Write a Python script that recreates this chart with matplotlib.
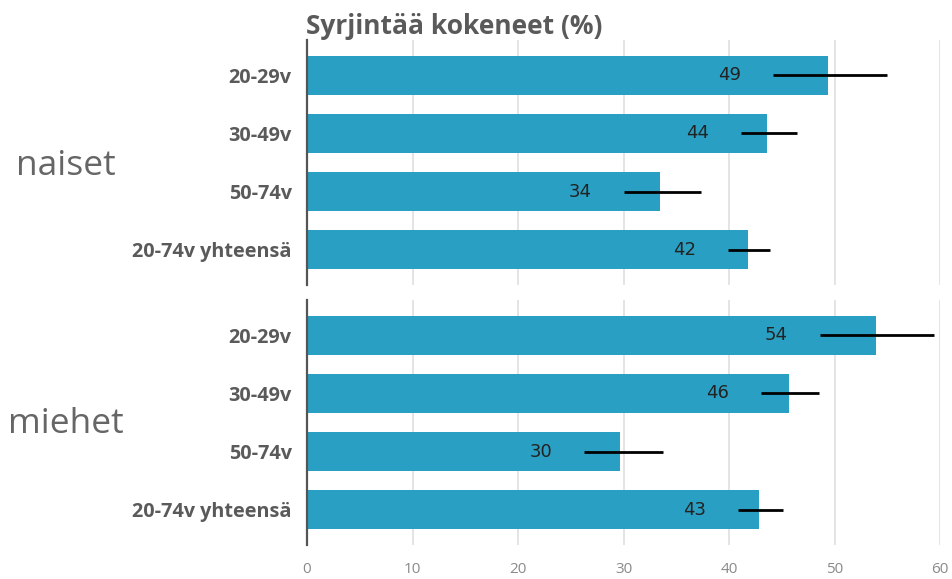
import numpy as np
import matplotlib
matplotlib.use("Agg")
import matplotlib.pyplot as plt

# Data
title = "Syrjintää kokeneet (%)"
groups = ["naiset", "miehet"]
categories = ["20-29v", "30-49v", "50-74v", "20-74v yhteensä"]
values = {
    "naiset": [49.4, 43.6, 33.5, 41.8],
    "miehet": [53.9, 45.7, 29.7, 42.8],
}
err_lo = {
    "naiset": [44.2, 41.1, 30.0, 39.9],
    "miehet": [48.6, 43.0, 26.3, 40.9],
}
err_hi = {
    "naiset": [55.0, 46.4, 37.3, 43.9],
    "miehet": [59.4, 48.5, 33.7, 45.1],
}
xticks = [0, 10, 20, 30, 40, 50, 60]

BAR = "#29a0c3"
GREY = "#5a5a5a"
FONT = "Open Sans"

fig = plt.figure(figsize=(9.52, 5.79), dpi=100)
W, H = 952, 579


def px_axes(left, top, right, bottom):
    return fig.add_axes([left / W, 1 - bottom / H, (right - left) / W, (bottom - top) / H])


panels = [(40, 285), (300, 545)]
group_base = [175, 433]
for i, (g, (top, bot)) in enumerate(zip(groups, panels)):
    ax = px_axes(307, top, 940, bot)
    y = np.arange(len(categories))
    vals = np.array(values[g])
    lo = np.array(err_lo[g])
    hi = np.array(err_hi[g])

    ax.barh(y, vals, height=0.66, color=BAR, zorder=2)
    ax.hlines(y, lo, hi, color="black", lw=2, zorder=3)
    for yy, v, l in zip(y, vals, lo):
        ax.annotate(f"{round(v)}", (l, yy), xytext=(-23, 0), textcoords="offset points",
                    ha="right", va="center", fontsize=13, color="#222222", zorder=4)

    ax.set_xlim(0, 60)
    ax.set_ylim(len(categories) - 0.39, -0.61)
    ax.set_xticks(xticks)
    ax.grid(axis="x", color="#e2e2e2", lw=1.3, zorder=0)
    ax.set_yticks(y)
    ax.set_yticklabels(categories, fontfamily=FONT, fontweight="bold", fontsize=14.3, color=GREY)
    ax.tick_params(axis="y", length=0, pad=11)
    ax.tick_params(axis="x", length=0, pad=12, labelsize=11, labelcolor="#8a8a8a")
    for lab in ax.get_xticklabels():
        lab.set_fontfamily(FONT)
    for s in ["top", "right", "bottom"]:
        ax.spines[s].set_visible(False)
    ax.spines["left"].set_color("#555555")
    ax.spines["left"].set_linewidth(1.6)
    if i == 0:
        ax.tick_params(axis="x", labelbottom=False)
        ax.set_title(title, loc="left", fontfamily=FONT, fontweight="bold", fontsize=19,
                     color=GREY, pad=1, x=-0.002)

    fig.text(66 / W, 1 - group_base[i] / H, g, ha="center", va="baseline",
             fontfamily=FONT, fontsize=25.5, color="#666666")

fig.savefig("out.png", dpi=100)
